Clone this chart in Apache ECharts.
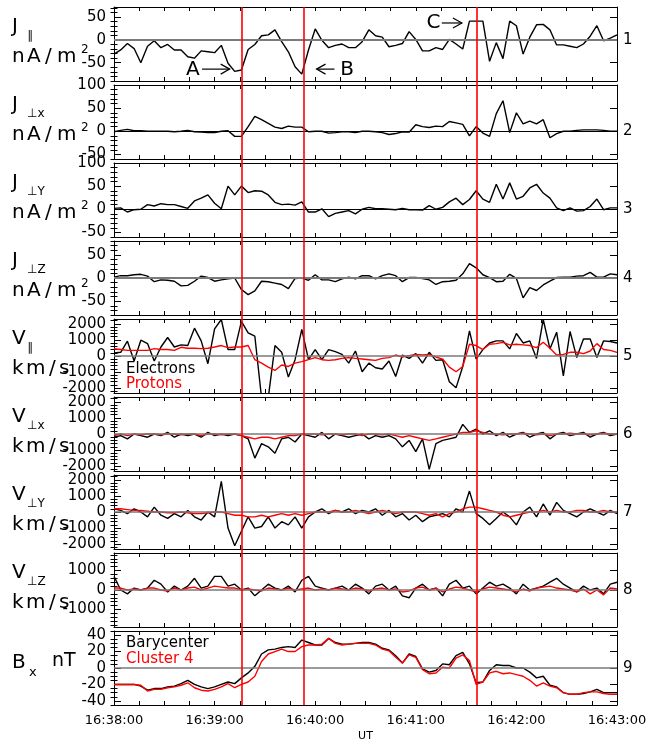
<!DOCTYPE html>
<html><head><meta charset="utf-8">
<script src="https://cdn.jsdelivr.net/npm/echarts@6/dist/echarts.min.js"></script>
<style>html,body{margin:0;padding:0;background:#fff}#c{width:660px;height:742px}</style>
</head><body><div id="c"></div>
<script>
// ---- data (4 s cadence from 16:38:00) ----
const STEP = 4;
const timeLabels = ['16:38:00','16:39:00','16:40:00','16:41:00','16:42:00','16:43:00'];
const eventTimes = [76, 113, 216.5];
const jPar = [-31,-22,-8,-19,-50,-14,-2,-17,-10,-22, -22,-37,-40,-24,-26,-28,-12,-51,-69,-66,
  -21,-10,9,11,22,-4,-26,-59,-75,-22, 24,-1,-17,-12,-9,-17,-17,-4,
  22,9,6,-15,-12,-8,18,1,-24,-24, -17,-21,1,-9,-20,41,41,41,-47,-6,
  -41,41,31,-31,6,33,34,22,-11,-11, -14,-17,-9,8,31,-2,4,11];
const jPerpX = [-1,2,4,1,1,0,0,0,0,-1, 0,2,-1,-2,-3,-3,0,1,-11,-11,
  10,32,25,17,9,6,11,9,9,-1, 0,0,-4,-3,-1,-1,-3,0,
  0,-1,-3,-7,-5,-1,-2,14,10,8, 11,10,21,18,15,-10,10,-4,-11,38,
  66,-3,40,16,22,16,25,-14,-5,0, 0,2,3,3,3,2,0,0];
const jPerpY = [2,3,-6,-1,0,10,7,12,10,10, 6,2,18,24,31,13,1,50,31,50,
  36,40,39,31,15,10,11,9,16,-6, -6,1,-16,-9,-6,-3,-10,0,
  4,1,1,0,-1,2,-1,-1,-2,8, 0,4,16,24,10,21,40,22,15,54,
  22,57,22,28,46,54,35,24,3,-3, 3,-4,-3,6,22,-1,3,3];
const jPerpZ = [2,5,5,7,8,4,-8,-4,-5,-7, -17,-16,-7,4,1,-7,-4,-2,0,-25,
  -36,-28,-7,-8,-11,-14,-23,-1,0,-5, 7,-4,-4,-8,-2,2,-2,5,
  5,-2,5,9,5,-8,1,1,-1,-4, -14,-8,-7,-5,9,31,22,7,1,-8,
  -7,8,-1,-43,-21,-27,-15,-7,1,2, 2,4,5,12,2,2,9,7];
const vParE = [190,230,920,-310,980,770,-310,560,1150,560, 690,650,1730,940,-480,1690,2270,400,400,2150,
  1440,1230,-2600,-2600,650,230,-1310,-230,1650,-230, 400,-230,400,270,100,-440,310,-980,
  -440,-730,-810,-310,-1270,60,-150,150,-440,230, -270,-230,-1600,-1980,-650,1560,-190,400,810,940,
  940,440,1400,810,940,-150,2270,440,1480,-1230, 1520,-100,1060,1060,-100,940,900,810];
const vParP = [450,400,350,350,350,350,460,400,400,350, 540,480,480,460,480,560,650,520,560,560,
  650,-230,-440,-690,-900,-560,-650,-440,-350,-230, -100,-230,-270,-230,-150,-100,-150,-190,
  -230,-270,-150,-100,60,-60,20,100,60,100, -60,-190,-690,-980,-650,730,650,400,730,770,
  850,690,730,690,650,520,850,480,60,100, 230,230,150,310,770,400,350,230];
const vPerpXE = [-200,-100,-300,0,-100,-200,0,-100,100,-200, 0,-100,0,-200,100,-100,0,-100,0,-100,
  -300,-1500,-600,-800,-1200,-300,-200,-500,0,-100, -200,100,-300,0,-100,-200,-100,0,-300,-100,
  -200,-100,-300,-800,-400,-1100,-300,-2200,-600,-400, -300,-200,600,100,300,0,200,-100,100,-200,
  0,100,-200,0,100,-300,0,100,-100,0, 100,-200,0,100,-100,0];
const vPerpXP = [-100,0,-100,0,-50,0,0,-50,0,0, -50,0,0,-100,0,0,-50,0,0,-100,
  -200,-300,-200,-200,-300,-200,-100,-100,0,0, 0,-50,0,0,-50,0,0,-100,0,0,
  -50,0,-100,-200,-100,-200,-300,-400,-300,-200, -100,0,100,100,200,100,0,0,-50,0,
  0,50,0,-50,0,-100,0,0,50,0, 0,-50,0,50,0,0];
const vPerpYE = [200,100,-100,200,0,-300,300,-200,-400,-100, -300,100,-300,-500,0,-300,1900,-1000,-2100,-1200,
  -300,-1000,-900,-300,-1000,-600,-800,-300,-1000,-300, 0,200,-100,100,0,200,-100,100,0,200,
  -200,100,-300,-100,-500,-200,-600,-300,-200,-100, -300,200,0,1300,-100,-400,-800,-400,0,-300,
  -800,0,300,-300,500,-200,600,100,-100,-300, 0,200,0,-200,100,-100];
const vPerpYP = [200,200,150,100,100,50,0,0,-50,-50, 0,-50,-100,-100,-50,0,0,-100,-200,-200,
  -300,-300,-200,-300,-200,-100,-200,-100,-200,-100, 0,0,0,100,0,0,100,0,-100,0,
  100,0,-100,0,0,0,-100,-200,-100,-300, -100,0,200,300,300,200,100,0,-200,-300,
  -200,-100,0,0,100,0,100,0,0,100, 100,0,0,100,0,0];
const vPerpZE = [700,0,-200,100,0,100,500,300,-100,200, 0,200,600,100,200,700,700,200,300,0,
  100,-300,0,300,100,0,200,-100,500,700, 200,100,0,100,200,0,300,100,-200,200,
  300,0,200,-300,-400,100,300,0,100,-300, 300,500,100,200,-200,100,400,200,300,100,
  -200,300,0,100,200,400,600,300,100,-100, 200,0,100,-200,300,400];
const vPerpZP = [100,100,0,50,0,100,100,0,-50,100, 0,100,150,0,100,200,150,100,100,0,
  50,0,-50,100,50,0,100,0,50,100, 0,50,0,100,50,0,100,50,-50,50,
  100,0,50,-100,-50,100,150,0,100,-100, 50,150,100,0,-100,50,150,100,50,0,
  -100,50,-50,100,150,200,100,50,0,-100, 50,-200,0,-250,100,50];
const bxBary = [-20,-20,-20,-20,-22,-27,-25,-25,-23,-22, -19,-15,-20,-23,-25,-23,-20,-17,-19,-12,
  -6,2,17,22,23,25,26,25,34,31, 28,28,36,31,29,29,30,31,31,29,
  24,22,15,6,17,14,-1,-5,-3,5, 4,15,19,5,-18,-17,-3,4,3,3,
  0,0,-5,-12,-10,-21,-23,-30,-32,-32, -31,-29,-26,-30,-30,-30];
const bxC4 = [-20,-20,-20,-20,-21,-28,-26,-26,-24,-23, -21,-18,-24,-27,-28,-26,-23,-19,-24,-20,
  -17,-10,8,17,20,23,20,20,26,28, 28,29,36,30,28,29,30,30,30,28,
  23,21,13,6,16,13,-2,-7,-6,1, 0,12,16,9,-20,-17,-6,-4,-7,-6,
  -8,-10,-15,-22,-18,-22,-24,-30,-32,-32, -30,-29,-29,-31,-32,-32];

// ---- panel setup ----
const BLACK='#000', RED='#ff0000', GRAY='#7a7a7a';
const FONT='DejaVu Sans';
const panels = [
  {lines:[[jPar,BLACK]], min:-90, max:72, major:[-50,0,50], minorStep:10, zero:GRAY, zw:1.8},
  {lines:[[jPerpX,BLACK]], min:-60, max:100, major:[-50,0,50,100], minorStep:10, zero:BLACK, zw:1},
  {lines:[[jPerpY,BLACK]], min:-60, max:100, major:[-50,0,50,100], minorStep:10, zero:BLACK, zw:1},
  {lines:[[jPerpZ,BLACK]], min:-80, max:80, major:[-50,0,50], minorStep:10, zero:GRAY, zw:1.8},
  {lines:[[vParE,BLACK],[vParP,RED]], min:-2300, max:2300, major:[-2000,-1000,0,1000,2000], minorStep:200, zero:GRAY, zw:1.6},
  {lines:[[vPerpXE,BLACK],[vPerpXP,RED]], min:-2300, max:2300, major:[-2000,-1000,0,1000,2000], minorStep:200, zero:GRAY, zw:1.6},
  {lines:[[vPerpYE,BLACK],[vPerpYP,RED]], min:-2300, max:2300, major:[-2000,-1000,0,1000,2000], minorStep:200, zero:GRAY, zw:1.6},
  {lines:[[vPerpZE,BLACK],[vPerpZP,RED]], min:-1900, max:1900, major:[-1000,0,1000], minorStep:200, zero:GRAY, zw:1.6},
  {lines:[[bxBary,BLACK],[bxC4,RED]], min:-45, max:45, major:[-40,-20,0,20,40], minorStep:5, zero:GRAY, zw:1.6}
];
const L=114, W=503, H=74;
const tops=[7,85,163,241,319,397,475,553,631];

function minorVals(p){
  const out=[]; const s=p.minorStep;
  for(let v=Math.ceil(p.min/s)*s; v<=p.max; v+=s){ if(p.major.indexOf(v)<0) out.push(v); }
  return out;
}
const grid=[], xAxis=[], yAxis=[], series=[];
panels.forEach((p,i)=>{
  grid.push({left:L, top:tops[i], width:W, height:H});
  const xbase = {gridIndex:i, type:'value', min:0, max:300, interval:15,
    axisLine:{show:true, onZero:false, lineStyle:{color:BLACK, width:1}},
    axisTick:{show:true, inside:true, length:4, lineStyle:{color:BLACK, width:1}},
    splitLine:{show:false}};
  xAxis.push(Object.assign({}, xbase, {position:'bottom',
    axisLabel:{show:i===8, color:BLACK, fontSize:13, fontFamily:FONT, margin:9,
      formatter:v=> (v%60===0 ? timeLabels[v/60] : '')}}));
  xAxis.push(Object.assign({}, xbase, {position:'top', axisLabel:{show:false}}));
  const ybase = {gridIndex:i, type:'value', min:p.min, max:p.max, splitLine:{show:false}};
  const minor = minorVals(p);
  yAxis.push(Object.assign({}, ybase, {position:'left',
    axisLine:{show:true, onZero:false, lineStyle:{color:BLACK, width:1}},
    axisTick:{show:true, inside:true, length:7, customValues:p.major, lineStyle:{color:BLACK}},
    axisLabel:{show:true, customValues:p.major, formatter:v=>String(v), color:BLACK, fontSize:15, fontFamily:FONT, margin:8}}));
  yAxis.push(Object.assign({}, ybase, {position:'left',
    axisLine:{show:false}, axisLabel:{show:false},
    axisTick:{show:true, inside:true, length:3.5, customValues:minor, lineStyle:{color:BLACK}}}));
  yAxis.push(Object.assign({}, ybase, {position:'right',
    axisLine:{show:true, onZero:false, lineStyle:{color:BLACK, width:1}},
    axisTick:{show:true, inside:true, length:7, customValues:p.major, lineStyle:{color:BLACK}},
    axisLabel:{show:true, customValues:[0], formatter:()=>String(i+1), color:BLACK, fontSize:15, fontFamily:FONT, margin:6}}));
  yAxis.push(Object.assign({}, ybase, {position:'right',
    axisLine:{show:false}, axisLabel:{show:false},
    axisTick:{show:true, inside:true, length:3.5, customValues:minor, lineStyle:{color:BLACK}}}));
  p.lines.forEach((ln,j)=>{
    const s = {type:'line', xAxisIndex:2*i, yAxisIndex:4*i, symbol:'none', clip:true, animation:false,
      data: ln[0].map((v,k)=>[k*STEP, v]),
      lineStyle:{color:ln[1], width:1.4}, z: 3};
    if(j===0){
      s.markLine = {silent:true, symbol:'none', animation:false, label:{show:false},
        lineStyle:{color:p.zero, width:p.zw, type:'solid'}, data:[{yAxis:0}]};
    }
    series.push(s);
  });
});
// overlay grid for event lines spanning all panels
grid.push({left:L, top:tops[0], width:W, height:tops[8]+H-tops[0]});
xAxis.push({gridIndex:9, type:'value', min:0, max:300, show:false});
yAxis.push({gridIndex:9, type:'value', min:0, max:1, show:false});
series.push({type:'line', xAxisIndex:18, yAxisIndex:36, data:[[0,null]], symbol:'none', z:10, animation:false,
  markLine:{silent:true, symbol:'none', animation:false, label:{show:false},
    lineStyle:{color:RED, width:1.6, type:'solid'}, data:eventTimes.map(t=>({xAxis:t}))}});

const chart = echarts.init(document.getElementById('c'));
chart.setOption({animation:false, backgroundColor:'#fff', grid, xAxis, yAxis, series});

// ---- text annotations ----
const G=[];
function txt(x,y,s,size,color,align){
  G.push({type:'text', x, y, style:{text:s, fontSize:size, fontFamily:FONT, fill:color||BLACK,
    textAlign:align||'left', textVerticalAlign:'middle'}, z:20});
}
function spaced(x0, y, chars, xs, size){ chars.forEach((c,k)=>txt(x0+xs[k], y, c, size)); }
const names = [['J','∥'],['J','⊥x'],['J','⊥Y'],['J','⊥Z'],['V','∥'],['V','⊥x'],['V','⊥Y'],['V','⊥Z']];
names.forEach((n,i)=>{
  const t=tops[i];
  txt(12, t+20, n[0], 20);
  txt(27, t+29, n[1], 12);
  if(i<4){ spaced(12, t+50, ['n','A','/','m'], [0,15,33,45], 20); txt(81, t+43, '2', 12); }
  else { spaced(12, t+50, ['k','m','/','s'], [0,14,37,47], 20); }
});
txt(12, tops[8]+32, 'B', 20);
txt(29, tops[8]+42, 'x', 13);
txt(52, tops[8]+30, 'nT', 19);
txt(126, tops[4]+50, 'Electrons', 15, BLACK);
txt(126, tops[4]+65, 'Protons', 15, RED);
txt(126, tops[8]+12, 'Barycenter', 15, BLACK);
txt(126, tops[8]+28, 'Cluster 4', 15, RED);
txt(L+W/2, 736, 'UT', 11, BLACK, 'center');

// letters and arrows in panel 1 (data coords)
const annLabels = [['A',47,-66],['B',139,-66],['C',190.5,37]];
const annArrows = [[52.5,69,-64],[131.5,120.8,-64],[195.5,207.5,37]];
function px(t,v){ return chart.convertToPixel({xAxisIndex:0, yAxisIndex:0}, [t,v]); }
annLabels.forEach(a=>{ const p=px(a[1],a[2]); txt(p[0], p[1], a[0], 20, BLACK, 'center'); });
annArrows.forEach(a=>{
  const p1=px(a[0],a[2]), p2=px(a[1],a[2]); const d = p2[0]>p1[0]?1:-1;
  G.push({type:'line', shape:{x1:p1[0],y1:p1[1],x2:p2[0],y2:p2[1]}, style:{stroke:BLACK, lineWidth:1.2}, z:20});
  G.push({type:'polyline', shape:{points:[[p2[0]-d*9,p2[1]-5],[p2[0],p2[1]],[p2[0]-d*9,p2[1]+5]]}, style:{stroke:BLACK, fill:null, lineWidth:1.2}, z:20});
});
chart.setOption({graphic:G});
</script></body></html>
